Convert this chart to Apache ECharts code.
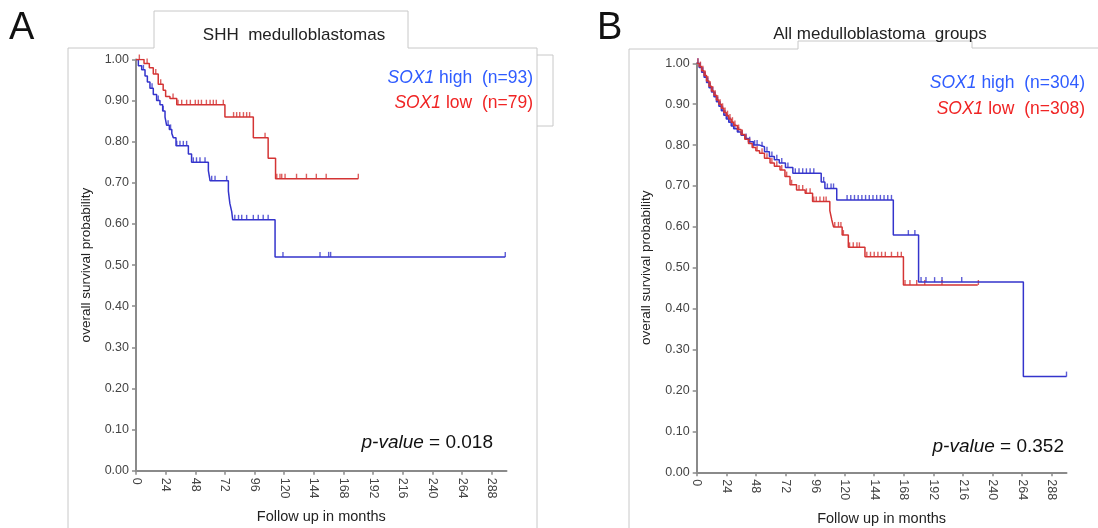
<!DOCTYPE html>
<html>
<head>
<meta charset="utf-8">
<script src="https://cdn.jsdelivr.net/npm/echarts@6/dist/echarts.min.js"></script>
<style>
html,body{margin:0;padding:0;background:#fff;}
#chart{width:1098px;height:528px;}
</style>
</head>
<body>
<div id="chart"></div>
<script>
// Tick labels
var xTicks = [0, 24, 48, 72, 96, 120, 144, 168, 192, 216, 240, 264, 288];

// Panel A: SHH medulloblastomas  [months, survival]
var shhHighSteps = [[0,1],[1.9,0.985],[4.6,0.975],[7.3,0.96],[9.2,0.945],[11.3,0.93],[14,0.915],[16.7,0.9],[19.4,0.89],[21.6,0.875],[23.5,0.86],[24.8,0.84],[27,0.83],[29,0.82],[30.2,0.81],[32.4,0.79],[42.4,0.77],[45,0.75],[58.6,0.73],[60,0.705],[74.8,0.68],[76,0.65],[77.5,0.63],[78.3,0.61],[112.6,0.52],[299,0.52]];
var shhLowSteps = [[0,1],[6.5,0.99],[10.8,0.98],[14,0.965],[18,0.94],[22,0.925],[24,0.91],[27.5,0.905],[33,0.89],[72,0.86],[95,0.81],[107,0.76],[113,0.71],[180,0.71]];
var shhHighCensor = [6,13,18,22,26,28,33,35.6,38.3,41,46.4,49,51.8,55.9,61.3,64,73.4,80,83,85.6,89.6,95,99,103,107,119,149,156,157.6,299];
var shhLowCensor = [2.7,9,16,20,30,34,37,41,44,48,50.5,53,57,60,62.6,65,70.7,79,81.5,84,87,89.6,92,104.5,114,116.6,118,120.7,130,138,146,154,180];

// Panel B: all medulloblastoma groups
var allHighSteps = [[0,1],[2,0.99],[4,0.978],[6,0.966],[8,0.953],[10,0.94],[12,0.93],[14,0.918],[16,0.906],[18,0.895],[20,0.884],[22,0.873],[24,0.864],[26,0.856],[28,0.847],[30,0.84],[33,0.832],[36,0.824],[39,0.816],[42,0.808],[46,0.8],[51,0.796],[55,0.784],[59,0.772],[63,0.764],[67,0.756],[72,0.745],[78,0.731],[101,0.71],[104,0.694],[113.6,0.666],[159.5,0.58],[180,0.465],[265,0.234],[300,0.234]];
var allLowSteps = [[0,1],[2,0.992],[4,0.982],[6,0.97],[8,0.957],[10,0.944],[12,0.932],[14,0.922],[16,0.91],[18,0.9],[20,0.89],[22,0.88],[24,0.872],[26,0.864],[28,0.856],[30,0.848],[33,0.838],[36,0.826],[39,0.814],[42,0.804],[45,0.794],[48,0.786],[51,0.78],[55,0.768],[59.5,0.756],[63,0.748],[67.6,0.739],[71.6,0.723],[75.7,0.703],[81,0.69],[88,0.682],[94,0.662],[108,0.64],[109.6,0.617],[111,0.6],[118,0.58],[123,0.55],[136.5,0.527],[167.7,0.458],[228,0.458]];
var allHighCensor = [1,3,5,7,9,11,13,15,17,19,21,23,25,27,29,31,34,37,40,43,47,49,53,57,61,65,69,74,80,83,86,89,92,95,103,106,109,111,122,125,128,131,134,137,140,143,146,149,152,155,158,171.7,177,182,186,193,199,215,300];
var allLowCensor = [1,3,5,7,9,11,13,15,17,19,21,23,25,27,29,31,34,37,40,43,46,49,53,57,61,65,69,73,77,83,86,89,92,95,97,100,103,105,112,115,117,119,124,127,130,132,138,141,144,147,150,153,158,163,166,169,173,178.5,185,199,228.5];

var BLUE = '#3434cc', RED = '#d43434';
var FONT = 'Liberation Sans, Arial, sans-serif';

function levelAt(steps, t){
    var s = steps[0][1];
    for(var i=0;i<steps.length;i++){
        if(steps[i][0] <= t){ s = steps[i][1]; }
    }
    return s;
}
function censorPts(steps, times){
    return times.map(function(t){ return [t, levelAt(steps, t)]; });
}

function xAxisOpt(idx){
    return {
        gridIndex: idx, type: 'value', min: 0, max: 300, interval: 24,
        offset: 2,
        name: 'Follow up in months', nameLocation: 'middle', nameGap: 37,
        nameTextStyle: {fontSize: 14.5, color: '#222', fontFamily: FONT},
        axisLine: {lineStyle: {color: '#8a8a8a', width: 2}},
        axisTick: {length: 4, lineStyle: {color: '#8a8a8a', width: 1.5}, customValues: xTicks},
        axisLabel: {rotate: -90, fontSize: 12.5, color: '#444', fontFamily: FONT, margin: 5, customValues: xTicks},
        splitLine: {show: false}
    };
}
function yAxisOpt(idx){
    return {
        gridIndex: idx, type: 'value', min: 0, max: 1, interval: 0.1,
        offset: 3,
        name: 'overall survival probability', nameLocation: 'middle', nameGap: 40,
        nameTextStyle: {fontSize: 13.5, color: '#222', fontFamily: FONT},
        axisLine: {show: true, lineStyle: {color: '#8a8a8a', width: 2}},
        axisTick: {show: true, length: 4, lineStyle: {color: '#8a8a8a', width: 1.5}},
        axisLabel: {fontSize: 12.5, color: '#444', fontFamily: FONT, margin: 4,
            formatter: function(v){ return v.toFixed(2); }},
        splitLine: {show: false}
    };
}
function stepLine(idx, data, color){
    return {type: 'line', step: 'end', xAxisIndex: idx, yAxisIndex: idx, data: data,
        showSymbol: false, symbol: 'none', lineStyle: {color: color, width: 1.5}, silent: true, animation: false};
}
function ticks(idx, data, color){
    return {type: 'scatter', xAxisIndex: idx, yAxisIndex: idx, data: data,
        symbol: 'rect', symbolSize: [1.4, 5], symbolOffset: [0, -2.5],
        itemStyle: {color: color}, silent: true, animation: false};
}

var frameStyle = {stroke: '#c8c8c8', lineWidth: 1, fill: null};

var chart = echarts.init(document.getElementById('chart'));
chart.setOption({
    backgroundColor: '#fff',
    animation: false,
    grid: [
        {left: 136, top: 59.5, width: 370.5, height: 411.2, outerBoundsMode: 'none', containLabel: false},
        {left: 696.7, top: 63.3, width: 369.8, height: 409, outerBoundsMode: 'none', containLabel: false}
    ],
    xAxis: [xAxisOpt(0), xAxisOpt(1)],
    yAxis: [yAxisOpt(0), yAxisOpt(1)],
    series: [
        stepLine(0, shhHighSteps, BLUE),
        stepLine(0, shhLowSteps, RED),
        ticks(0, censorPts(shhHighSteps, shhHighCensor), BLUE),
        ticks(0, censorPts(shhLowSteps, shhLowCensor), RED),
        stepLine(1, allHighSteps, BLUE),
        stepLine(1, allLowSteps, RED),
        ticks(1, censorPts(allHighSteps, allHighCensor), BLUE),
        ticks(1, censorPts(allLowSteps, allLowCensor), RED)
    ],
    graphic: [
        // frames
        {type: 'polyline', z: 0, shape: {points: [[68,528],[68,48],[154,48],[154,11],[408,11],[408,48],[537,48],[537,528]]}, style: frameStyle},
        {type: 'polyline', z: 0, shape: {points: [[537,55],[553,55],[553,126],[537,126]]}, style: frameStyle},
        {type: 'polyline', z: 0, shape: {points: [[629,528],[629,49],[798,49],[798,41],[972,41],[972,48],[1098,48]]}, style: frameStyle},
        // panel letters
        {type: 'text', left: 9, top: 10, style: {text: 'A', fontSize: 38, fontFamily: FONT, fill: '#111'}},
        {type: 'text', left: 597, top: 10, style: {text: 'B', fontSize: 38, fontFamily: FONT, fill: '#111'}},
        // titles
        {type: 'text', x: 294, y: 35, style: {text: 'SHH  medulloblastomas', fontSize: 17, fontFamily: FONT, fill: '#222', align: 'center', verticalAlign: 'middle'}},
        {type: 'text', x: 880, y: 34, style: {text: 'All medulloblastoma  groups', fontSize: 17, fontFamily: FONT, fill: '#222', align: 'center', verticalAlign: 'middle'}},
        // legends
        {type: 'text', x: 533, y: 78, style: {text: '{i|SOX1} high  (n=93)', fontSize: 17.5, fontFamily: FONT, fill: '#2f5cff', align: 'right', verticalAlign: 'middle', rich: {i: {fontStyle: 'italic', fontSize: 17.5, fontFamily: FONT, fill: '#2f5cff'}}}},
        {type: 'text', x: 533, y: 103, style: {text: '{i|SOX1} low  (n=79)', fontSize: 17.5, fontFamily: FONT, fill: '#f02424', align: 'right', verticalAlign: 'middle', rich: {i: {fontStyle: 'italic', fontSize: 17.5, fontFamily: FONT, fill: '#f02424'}}}},
        {type: 'text', x: 1085, y: 83, style: {text: '{i|SOX1} high  (n=304)', fontSize: 17.5, fontFamily: FONT, fill: '#2f5cff', align: 'right', verticalAlign: 'middle', rich: {i: {fontStyle: 'italic', fontSize: 17.5, fontFamily: FONT, fill: '#2f5cff'}}}},
        {type: 'text', x: 1085, y: 109, style: {text: '{i|SOX1} low  (n=308)', fontSize: 17.5, fontFamily: FONT, fill: '#f02424', align: 'right', verticalAlign: 'middle', rich: {i: {fontStyle: 'italic', fontSize: 17.5, fontFamily: FONT, fill: '#f02424'}}}},
        // p-values
        {type: 'text', x: 493, y: 443, style: {text: '{i|p-value} = 0.018', fontSize: 19, fontFamily: FONT, fill: '#111', align: 'right', verticalAlign: 'middle', rich: {i: {fontStyle: 'italic', fontSize: 19, fontFamily: FONT, fill: '#111'}}}},
        {type: 'text', x: 1064, y: 447, style: {text: '{i|p-value} = 0.352', fontSize: 19, fontFamily: FONT, fill: '#111', align: 'right', verticalAlign: 'middle', rich: {i: {fontStyle: 'italic', fontSize: 19, fontFamily: FONT, fill: '#111'}}}}
    ]
});
</script>
</body>
</html>
